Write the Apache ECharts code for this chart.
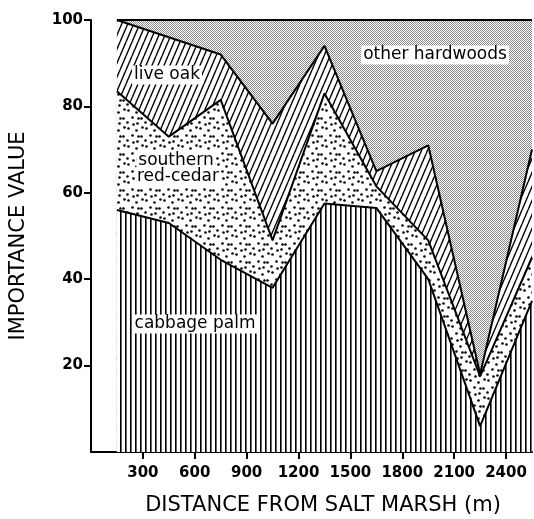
<!DOCTYPE html>
<html>
<head>
<meta charset="utf-8">
<script src="https://cdn.jsdelivr.net/npm/echarts@6/dist/echarts.min.js"></script>
<style>
html, body { margin: 0; padding: 0; background: #fff; }
#chart { width: 534px; height: 519px; }
</style>
</head>
<body>
<div id="chart"></div>
<script>
// distance from salt marsh (m)
const distances = [150, 450, 750, 1050, 1350, 1650, 1950, 2250, 2550];
// importance value of each group, stacked bottom to top
const cabbagePalm = [56, 53, 44.5, 38, 57.5, 56.5, 40, 6, 35];
const redCedar = [27.5, 20, 37, 11, 25.5, 5, 9, 11.5, 10];
const liveOak = [16.5, 23, 10.5, 27, 11, 3.5, 22, 0.5, 25];
const otherHardwoods = [0, 4, 8, 24, 6, 35, 29, 82, 30];

const xTicks = [300, 600, 900, 1200, 1500, 1800, 2100, 2400];
const yTicks = [20, 40, 60, 80, 100];

const FONT = '"DejaVu Sans", sans-serif';

// small canvas tiles used as fill patterns
function makeTile(w, h, draw) {
  const c = document.createElement('canvas');
  c.width = w;
  c.height = h;
  const ctx = c.getContext('2d');
  ctx.fillStyle = '#fff';
  ctx.fillRect(0, 0, w, h);
  draw(ctx);
  return { image: c, repeat: 'repeat' };
}

const verticalLines = makeTile(5, 4, ctx => {
  ctx.fillStyle = '#000';
  ctx.fillRect(0, 0, 1, 4);
  ctx.fillStyle = '#666';
  ctx.fillRect(1, 0, 1, 4);
});

const coarseDots = makeTile(18, 18, ctx => {
  ctx.fillStyle = '#000';
  const spots = [[2, 2], [10, 4], [15, 10], [6, 9], [1, 14], [11, 15], [16, 1], [7, 16], [12, 10]];
  spots.forEach(([x, y]) => {
    ctx.beginPath();
    ctx.arc(x + 0.5, y + 0.5, 1.3, 0, Math.PI * 2);
    ctx.fill();
  });
});

const hatch = makeTile(6, 14, ctx => {
  ctx.strokeStyle = '#000';
  ctx.lineWidth = 1.4;
  [-6, 0, 6].forEach(x => {
    ctx.beginPath();
    ctx.moveTo(x, 14);
    ctx.lineTo(x + 6, 0);
    ctx.stroke();
  });
});

const stipple = makeTile(2, 2, ctx => {
  ctx.fillStyle = '#8a8a8a';
  ctx.fillRect(0, 0, 1, 1);
  ctx.fillRect(1, 1, 1, 1);
});

// cumulative tops, bottom layer first
const layers = [cabbagePalm, redCedar, liveOak, otherHardwoods];
const tops = [];
layers.forEach((vals, k) => {
  tops.push(vals.map((v, i) => (k ? tops[k - 1][i] : 0) + v));
});

// each layer is filled down to 0; lower layers sit on top so they hide the rest
function layer(name, k, fill) {
  return {
    name: name,
    type: 'line',
    symbol: 'none',
    silent: true,
    z: 10 - k,
    data: distances.map((d, i) => [d, tops[k][i]]),
    lineStyle: { color: '#000', width: 2 },
    areaStyle: { color: fill, opacity: 1 }
  };
}

function label(text, x, y) {
  return {
    type: 'text',
    z: 100,
    style: {
      text: text, x: x, y: y,
      font: '17px ' + FONT,
      fill: '#000',
      align: 'center', textAlign: 'center',
      verticalAlign: 'middle', textVerticalAlign: 'middle',
      backgroundColor: '#fff',
      padding: [1, 2]
    }
  };
}

const chart = echarts.init(document.getElementById('chart'));
chart.setOption({
  animation: false,
  backgroundColor: '#fff',
  grid: { left: 90, right: 2, top: 20, bottom: 67 },
  xAxis: {
    type: 'value',
    min: 0,
    max: 2550,
    axisLine: { lineStyle: { color: '#000', width: 2 } },
    axisTick: { customValues: xTicks, length: 7, lineStyle: { color: '#000', width: 2 } },
    axisLabel: {
      customValues: xTicks, margin: 14, color: '#000',
      fontFamily: FONT, fontSize: 15, fontWeight: 'bold',
      formatter: v => String(v)
    },
    splitLine: { show: false }
  },
  yAxis: {
    type: 'value',
    min: 0,
    max: 100,
    name: 'IMPORTANCE VALUE',
    nameLocation: 'middle',
    nameGap: 62,
    nameTextStyle: { color: '#000', fontFamily: FONT, fontSize: 21 },
    axisLine: { show: true, lineStyle: { color: '#000', width: 2 } },
    axisTick: { show: true, customValues: yTicks, length: 7, lineStyle: { color: '#000', width: 2 } },
    axisLabel: {
      customValues: yTicks, margin: 8, color: '#000',
      fontFamily: FONT, fontSize: 15, fontWeight: 'bold'
    },
    splitLine: { show: false }
  },
  series: [
    layer('cabbage palm', 0, verticalLines),
    layer('southern red-cedar', 1, coarseDots),
    layer('live oak', 2, hatch),
    layer('other hardwoods', 3, stipple)
  ],
  graphic: [
    label('live oak', 167, 75),
    label('southern', 176, 161),
    label('red-cedar', 178, 177),
    label('other hardwoods', 435, 55),
    label('cabbage palm', 195, 324),
    {
      type: 'text',
      z: 100,
      style: {
        text: 'DISTANCE FROM SALT MARSH (m)',
        x: 323, y: 506,
        font: '21px ' + FONT,
        fill: '#000',
        align: 'center', textAlign: 'center',
        verticalAlign: 'middle', textVerticalAlign: 'middle'
      }
    }
  ]
});
</script>
</body>
</html>
